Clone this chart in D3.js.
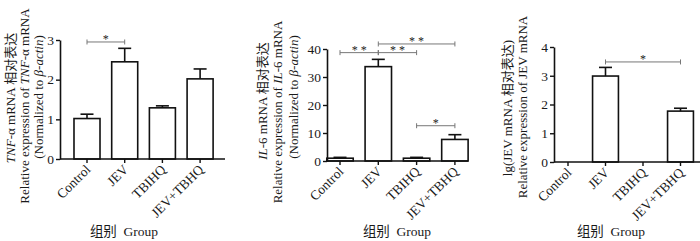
<html>
<head>
<meta charset="utf-8">
<style>
  body { margin: 0; background: #fff; }
  text { font-family: "Liberation Serif", "Noto Sans CJK SC", serif; fill: #1a1a1a; }
</style>
</head>
<body>
<svg id="chart" width="700" height="241"></svg>
<script src="https://cdn.jsdelivr.net/npm/d3@7"></script>
<script>
// categories shared by the three panels
const groups = ["Control", "JEV", "TBIHQ", "JEV+TBHQ"];

// TNF-α panel
const tnfMean = [1.02, 2.45, 1.29, 2.02];
const tnfErr = [0.11, 0.34, 0.05, 0.25];
const tnfTicks = [0, 1, 2, 3];
const tnfSig = [["Control", "JEV", 2.95, "*"]];

// IL-6 panel
const il6Mean = [1.0, 33.7, 1.0, 7.7];
const il6Err = [0.3, 2.6, 0.3, 1.7];
const il6Ticks = [0, 10, 20, 30, 40];
const il6Sig = [
  ["Control", "JEV", 38.7, "**"],
  ["JEV", "TBIHQ", 38.7, "**"],
  ["JEV", "JEV+TBHQ", 41.8, "**"],
  ["TBIHQ", "JEV+TBHQ", 12.6, "*"]
];

// JEV panel (lg scale, no bars for the uninfected groups)
const jevMean = [0, 2.99, 0, 1.77];
const jevErr = [0, 0.30, 0, 0.10];
const jevTicks = [0, 1, 2, 3, 4];
const jevSig = [["JEV", "JEV+TBHQ", 3.48, "*"]];

const svg = d3.select("#chart")

function drawPanel(p) {
  let g = svg.append("g")

  // x positions: band scale, bars centred in each step
  let x = d3.scaleBand()
    .domain(groups)
    .range(p.xRange)
    .paddingInner(0.31)
    .paddingOuter(0.155)

  let y = d3.scaleLinear()
    .domain([0, d3.max(p.ticks)])
    .range([p.y0, p.yTop])

  let data = groups.map((d, i) => ({ group: d, mean: p.mean[i], err: p.err[i] }))
  let bw = x.bandwidth()

  // bars
  g.selectAll(".bar")
    .data(data.filter(d => d.mean > 0))
    .enter()
    .append("rect")
    .attr("x", d => x(d.group))
    .attr("y", d => y(d.mean))
    .attr("width", bw)
    .attr("height", d => y(0) - y(d.mean))
    .attr("fill", "#fff")
    .attr("stroke", "#111")
    .attr("stroke-width", 1.6)

  // error bars (upper only)
  let eb = g.selectAll(".err")
    .data(data.filter(d => d.mean > 0))
    .enter()
    .append("g")
  eb.append("line")
    .attr("x1", d => x(d.group) + bw / 2)
    .attr("x2", d => x(d.group) + bw / 2)
    .attr("y1", d => y(d.mean))
    .attr("y2", d => y(d.mean + d.err))
    .attr("stroke", "#111")
    .attr("stroke-width", 1.6)
  eb.append("line")
    .attr("x1", d => x(d.group) + bw / 2 - 6.5)
    .attr("x2", d => x(d.group) + bw / 2 + 6.5)
    .attr("y1", d => y(d.mean + d.err))
    .attr("y2", d => y(d.mean + d.err))
    .attr("stroke", "#111")
    .attr("stroke-width", 1.6)

  // y axis
  let ya = g.append("g")
    .attr("transform", "translate(" + p.axisX + ",0)")
    .call(d3.axisLeft(y).tickValues(p.ticks).tickFormat(d3.format("d"))
      .tickSize(4).tickSizeOuter(0).tickPadding(2))
  ya.attr("font-family", null).attr("font-size", null)
  ya.select(".domain").attr("stroke", "#111").attr("stroke-width", 1.6)
  ya.selectAll(".tick line").attr("stroke", "#111").attr("stroke-width", 1.4)
  ya.selectAll(".tick text")
    .style("font-size", "13.5px")
    .attr("fill", "#1a1a1a")

  // x axis
  g.append("line")
    .attr("x1", p.axisX)
    .attr("x2", p.xEnd)
    .attr("y1", p.y0)
    .attr("y2", p.y0)
    .attr("stroke", "#111")
    .attr("stroke-width", 1.6)

  let xt = g.selectAll(".xtick")
    .data(groups)
    .enter()
    .append("g")
    .attr("transform", d => "translate(" + (x(d) + bw / 2) + "," + p.y0 + ")")
  xt.append("line")
    .attr("y2", 4)
    .attr("stroke", "#111")
    .attr("stroke-width", 1.4)
  xt.append("text")
    .text(d => d)
    .attr("text-anchor", "end")
    .attr("transform", "translate(1,8) rotate(-45)")
    .attr("dy", "0.35em")
    .style("font-size", "13.5px")

  // significance brackets
  let sg = g.selectAll(".sig")
    .data(p.sig)
    .enter()
    .append("g")
  sg.each(function (d) {
    let s = d3.select(this)
    let x1 = x(d[0]) + bw / 2
    let x2 = x(d[1]) + bw / 2
    let yy = y(d[2])
    s.append("line").attr("x1", x1).attr("x2", x2).attr("y1", yy).attr("y2", yy)
    s.append("line").attr("x1", x1).attr("x2", x1).attr("y1", yy - 2.5).attr("y2", yy + 2.5)
    s.append("line").attr("x1", x2).attr("x2", x2).attr("y1", yy - 2.5).attr("y2", yy + 2.5)
    s.selectAll("line").attr("stroke", "#777").attr("stroke-width", 1)
    s.append("text")
      .text(d[3].split("").join(" "))
      .attr("x", (x1 + x2) / 2)
      .attr("y", yy + 1)
      .attr("text-anchor", "middle")
      .style("font-size", "12px")
      .style("fill", "#222")
  })

  // y axis title, one text per line, rotated
  p.yTitle.forEach(t => {
    let tx = g.append("text")
      .attr("transform", "translate(" + t.x + "," + t.y + ") rotate(-90)")
      .attr("text-anchor", "middle")
      .attr("dy", "0.35em")
      .style("font-size", "13px")
    t.parts.forEach(part => {
      tx.append("tspan")
        .text(part[0])
        .style("font-style", part[1] ? "italic" : "normal")
    })
  })

  // x axis title
  g.append("text")
    .text("组别\u00a0\u00a0Group")
    .attr("x", p.groupX)
    .attr("y", 236)
    .attr("text-anchor", "middle")
    .style("font-size", "13.5px")
}

drawPanel({
  mean: tnfMean, err: tnfErr, ticks: tnfTicks, sig: tnfSig,
  xRange: [68.15, 218.95], axisX: 60, xEnd: 225, y0: 159, yTop: 40, groupX: 124,
  yTitle: [
    { x: 10, y: 98, parts: [["TNF", true], ["-α mRNA 相对表达", false]] },
    { x: 24, y: 106, parts: [["Relative expression of ", false], ["TNF", true], ["-α mRNA", false]] },
    { x: 38, y: 97, parts: [["(Normalized to ", false], ["β-actin", true], [")", false]] }
  ]
})

drawPanel({
  mean: il6Mean, err: il6Err, ticks: il6Ticks, sig: il6Sig,
  xRange: [320.85, 474.05], axisX: 327, xEnd: 468, y0: 161, yTop: 49, groupX: 397,
  yTitle: [
    { x: 262, y: 101, parts: [["IL", true], ["-6 mRNA 相对表达", false]] },
    { x: 277, y: 112, parts: [["Relative expression of ", false], ["IL", true], ["-6 mRNA", false]] },
    { x: 293, y: 97, parts: [["(Normalized to ", false], ["β-actin", true], [")", false]] }
  ]
})

drawPanel({
  mean: jevMean, err: jevErr, ticks: jevTicks, sig: jevSig,
  xRange: [549.25, 699.25], axisX: 554, xEnd: 700, y0: 162, yTop: 47, groupX: 611,
  yTitle: [
    { x: 507, y: 108, parts: [["lg(JEV mRNA 相对表达)", false]] },
    { x: 522, y: 107, parts: [["Relative expression of JEV mRNA", false]] }
  ]
})
</script>
</body>
</html>
